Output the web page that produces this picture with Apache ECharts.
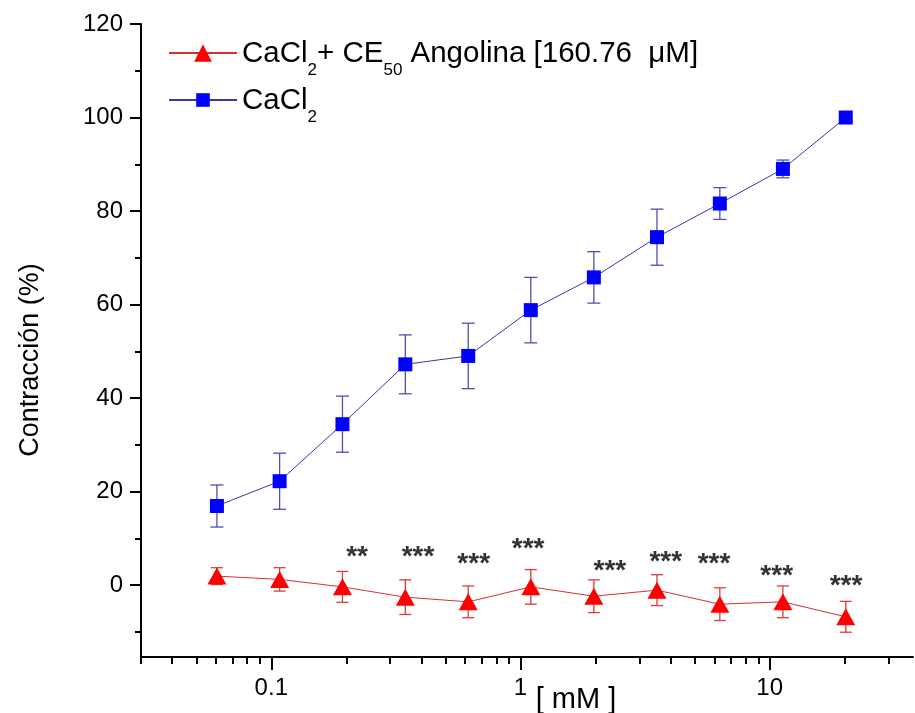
<!DOCTYPE html>
<html><head><meta charset="utf-8">
<script src="https://cdn.jsdelivr.net/npm/echarts@6/dist/echarts.min.js"></script>
<style>html,body{margin:0;padding:0;background:#fff}#c{width:915px;height:713px}</style>
</head><body><div id="c"></div>
<script>
// ---- data ----
const conc = [0.0605, 0.108, 0.193, 0.345, 0.617, 1.10, 1.97, 3.53, 6.31, 11.3, 20.2];
const cacl2 = [16.9, 22.2, 34.4, 47.2, 49.0, 58.8, 65.8, 74.4, 81.6, 89.0, 100];
const cacl2Err = [4.5, 6.0, 6.0, 6.3, 7.0, 7.0, 5.5, 6.0, 3.4, 1.9, 0];
const angol = [1.9, 1.2, -0.4, -2.6, -3.6, -0.4, -2.4, -1.1, -4.1, -3.6, -6.8];
const angolErr = [1.8, 2.5, 3.3, 3.7, 3.4, 3.7, 3.5, 3.3, 3.5, 3.4, 3.3];
const starX = [0.221, 0.388, 0.649, 1.073, 2.284, 3.83, 5.98, 10.67, 20.25];
const starY = [6.8, 6.8, 5.2, 8.6, 3.8, 5.7, 5.3, 2.8, 0.5];
const starText = ['**', '***', '***', '***', '***', '***', '***', '***', '***'];
const xMajorTicks = [0.1, 1, 10];
const xMinorTicks = [0.03, 0.04, 0.05, 0.06, 0.07, 0.08, 0.09, 0.2, 0.3, 0.4, 0.5, 0.6, 0.7, 0.8, 0.9, 2, 3, 4, 5, 6, 7, 8, 9, 20, 30];
const yMajorTicks = [0, 20, 40, 60, 80, 100, 120];
const yMinorTicks = [-10, 10, 30, 50, 70, 90, 110];
const xRange = [0.03, 37.6];
const yRange = [-15.4, 120];
const seriesNames = ['CaCl2+ CE50 Angolina [160.76  μM]', 'CaCl2'];
const xName = '[ mM ]';
const yName = 'Contracción (%)';

// ---- chart ----
const L = Math.log10;
const FONT = '"Liberation Sans", Arial, sans-serif';
const chart = echarts.init(document.getElementById('c'), null, {renderer: 'canvas'});

function errItem(color, cap) {
  return function (params, api) {
    const x = api.value(0), y = api.value(1), e = api.value(2);
    if (!e) return null;
    const t = api.coord([x, y + e]), b = api.coord([x, y - e]);
    const h = cap / 2;
    const st = {stroke: color, lineWidth: 1.3};
    return {type: 'group', children: [
      {type: 'line', shape: {x1: t[0], y1: t[1], x2: b[0], y2: b[1]}, style: st},
      {type: 'line', shape: {x1: t[0] - h, y1: t[1], x2: t[0] + h, y2: t[1]}, style: st},
      {type: 'line', shape: {x1: b[0] - h, y1: b[1], x2: b[0] + h, y2: b[1]}, style: st}
    ]};
  };
}

const xCommon = {
  type: 'value', min: L(xRange[0]), max: L(xRange[1]), gridIndex: 0, position: 'bottom',
  splitLine: {show: false}
};
const yCommon = {
  type: 'value', min: yRange[0], max: yRange[1], gridIndex: 0, position: 'left',
  splitLine: {show: false}
};

const richText = {
  n: {fontSize: 29.5, fontFamily: FONT, color: '#000', lineHeight: 28, verticalAlign: 'top'},
  s: {fontSize: 17, fontFamily: FONT, color: '#000', lineHeight: 17, padding: [23, 0, 0, 0], verticalAlign: 'top'}
};
function legendFmt(n) {
  if (n === seriesNames[0]) return '{n|CaCl}{s|2}{n|+ CE}{s|50}{n| Angolina [160.76  μM]}';
  return '{n|CaCl}{s|2}';
}

const option = {
  animation: false,
  backgroundColor: '#fff',
  textStyle: {fontFamily: FONT},
  grid: {left: 141, right: 2, top: 24, bottom: 56, containLabel: false},
  xAxis: [
    Object.assign({}, xCommon, {
      axisLine: {show: true, onZero: false, lineStyle: {color: '#000', width: 2}},
      axisTick: {show: true, inside: false, length: 13, lineStyle: {color: '#000', width: 2}, customValues: xMajorTicks.map(L)},
      axisLabel: {show: true, margin: 19, fontSize: 24, color: '#000', fontFamily: FONT,
        customValues: xMajorTicks.map(L), formatter: v => String(Math.round(Math.pow(10, v) * 1000) / 1000)}
    }),
    Object.assign({}, xCommon, {
      axisLine: {show: false, onZero: false},
      axisTick: {show: true, inside: false, length: 7, lineStyle: {color: '#000', width: 2}, customValues: xMinorTicks.map(L)},
      axisLabel: {show: false}
    })
  ],
  yAxis: [
    Object.assign({}, yCommon, {
      axisLine: {show: true, onZero: false, lineStyle: {color: '#000', width: 2}},
      axisTick: {show: true, inside: false, length: 11, lineStyle: {color: '#000', width: 2}, customValues: yMajorTicks},
      axisLabel: {show: true, margin: 18, fontSize: 24, color: '#000', fontFamily: FONT, customValues: yMajorTicks}
    }),
    Object.assign({}, yCommon, {
      axisLine: {show: false, onZero: false},
      axisTick: {show: true, inside: false, length: 6, lineStyle: {color: '#000', width: 2}, customValues: yMinorTicks},
      axisLabel: {show: false}
    })
  ],
  legend: [
    {
      orient: 'vertical', left: 168, top: 39, padding: 0, itemWidth: 68, itemHeight: 22,
      data: [seriesNames[0]], formatter: legendFmt,
      textStyle: {color: '#000', fontFamily: FONT, fontSize: 29.5, rich: richText}
    },
    {
      orient: 'vertical', left: 168, top: 86, padding: 0, itemWidth: 68, itemHeight: 17,
      data: [seriesNames[1]], formatter: legendFmt,
      textStyle: {color: '#000', fontFamily: FONT, fontSize: 29.5, rich: richText}
    }
  ],
  series: [
    {
      name: 'errA', type: 'custom', xAxisIndex: 0, yAxisIndex: 0, z: 1,
      renderItem: errItem('#e03a3a', 12),
      data: conc.map((c, i) => [L(c), angol[i], angolErr[i]])
    },
    {
      name: 'errC', type: 'custom', xAxisIndex: 0, yAxisIndex: 0, z: 1,
      renderItem: errItem('#5050aa', 13),
      data: conc.map((c, i) => [L(c), cacl2[i], cacl2Err[i]])
    },
    {
      name: seriesNames[0], type: 'line', xAxisIndex: 0, yAxisIndex: 0, z: 3,
      symbol: 'triangle', symbolSize: [19, 17],
      itemStyle: {color: '#ff0000'},
      lineStyle: {color: '#d83030', width: 1},
      data: conc.map((c, i) => [L(c), angol[i]])
    },
    {
      name: seriesNames[1], type: 'line', xAxisIndex: 0, yAxisIndex: 0, z: 3,
      symbol: 'rect', symbolSize: 14,
      itemStyle: {color: '#0000ff'},
      lineStyle: {color: '#3838a8', width: 1},
      data: conc.map((c, i) => [L(c), cacl2[i]])
    },
    {
      name: 'stars', type: 'scatter', xAxisIndex: 0, yAxisIndex: 0, z: 4,
      symbolSize: 1, itemStyle: {color: 'rgba(0,0,0,0)'},
      label: {show: true, position: 'inside', offset: [0, 4], fontSize: 28, fontWeight: 'bold', color: '#000', fontFamily: FONT,
        formatter: p => starText[p.dataIndex]},
      data: starX.map((x, i) => [L(x), starY[i]])
    }
  ],
  graphic: [
    {type: 'text', x: 576, y: 700, style: {text: xName, fontSize: 29, fontFamily: FONT, fill: '#000', textAlign: 'center', textVerticalAlign: 'middle'}},
    {type: 'text', x: 31, y: 360, rotation: Math.PI / 2, style: {text: yName, fontSize: 27, fontFamily: FONT, fill: '#000', textAlign: 'center', textVerticalAlign: 'middle'}}
  ]
};
chart.setOption(option);
</script>
</body></html>
